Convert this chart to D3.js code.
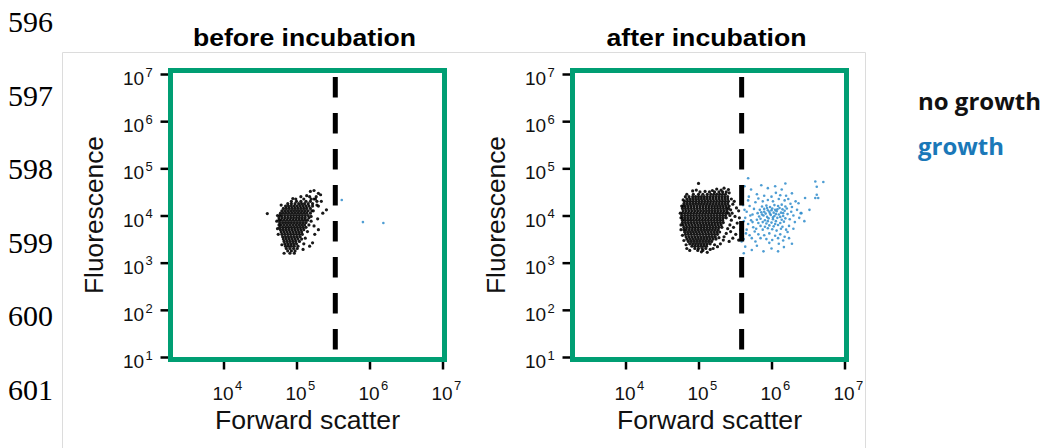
<!DOCTYPE html>
<html>
<head>
<meta charset="utf-8">
<script src="https://cdn.jsdelivr.net/npm/d3@7"></script>
<style>
body{margin:0;background:#fff}
svg{display:block}
</style>
</head>
<body>
<svg id="chart" width="1048" height="448"></svg>
<script>
var lineNumbers = ["596","597","598","599","600","601"]
var panelTitles = ["before incubation","after incubation"]
var xTicks = [1e4,1e5,1e6,1e7]
var yTicks = [1e1,1e2,1e3,1e4,1e5,1e6,1e7]
var gates = [3.4e5, 3.9e5]
var legendLabels = ["no growth","growth"]

// dots, in log10 units
// rows: [fluorescence, forward scatter, forward scatter, ...]
var beforeRows = [
  [4.40,5.06,5.18,5.27],
  [4.35,4.99,5.10,5.20,5.24],
  [4.30,4.93,5.00,5.06,5.13,5.19,5.28],
  [4.25,4.88,4.93,4.98,5.03,5.07,5.11,5.16,5.22],
  [4.20,4.85,4.89,4.93,4.97,5.01,5.05,5.09,5.13,5.17,5.22,5.30],
  [4.15,4.82,4.86,4.90,4.94,4.98,5.02,5.06,5.10,5.14,5.19],
  [4.10,4.80,4.84,4.88,4.92,4.96,5.00,5.04,5.08,5.12,5.16,5.21],
  [4.05,4.78,4.82,4.86,4.90,4.94,4.98,5.02,5.06,5.10,5.14,5.19],
  [4.00,4.77,4.80,4.84,4.88,4.92,4.96,5.00,5.04,5.08,5.12,5.16],
  [3.95,4.76,4.80,4.84,4.88,4.92,4.96,5.00,5.04,5.08,5.12,5.17],
  [3.90,4.76,4.79,4.83,4.87,4.91,4.95,4.99,5.03,5.07,5.11,5.15],
  [3.85,4.77,4.81,4.85,4.89,4.93,4.97,5.01,5.05,5.09,5.13],
  [3.80,4.76,4.79,4.83,4.87,4.91,4.95,4.99,5.03,5.07,5.11],
  [3.75,4.77,4.81,4.85,4.89,4.93,4.97,5.01,5.05,5.09,5.13],
  [3.70,4.78,4.82,4.86,4.90,4.94,4.98,5.02,5.06,5.10],
  [3.65,4.79,4.83,4.87,4.91,4.95,4.99,5.03,5.07],
  [3.60,4.80,4.84,4.88,4.92,4.96,5.00,5.04,5.08],
  [3.55,4.81,4.85,4.89,4.93,4.97,5.01,5.05],
  [3.50,4.82,4.86,4.90,4.94,4.98,5.02,5.07],
  [3.45,4.83,4.87,4.91,4.95,4.99,5.04],
  [3.40,4.84,4.88,4.92,4.96,5.00],
  [3.35,4.85,4.89,4.93,4.97,5.02],
  [3.30,4.86,4.91,4.96,5.01],
  [3.25,4.88,4.93,4.98],
  [3.20,4.91,4.97]
]
// single dots: [forward scatter, fluorescence]
var beforeExtra = [[4.60,4.04],[5.30,4.47],[5.24,4.53],[5.19,4.51],[5.33,4.44],[5.36,4.05],
  [5.41,4.12],[5.25,3.60],[5.22,3.42],[4.73,3.88],[4.74,3.72],[5.29,3.93],[5.28,4.22],
  [5.34,4.30],[5.18,3.35],[4.83,3.20],[5.30,3.70],[5.20,3.98],[5.23,4.10],[5.17,3.80],
  [5.15,3.66],[5.12,3.52],[4.74,4.00],[4.79,4.22],[4.75,3.60],[5.09,3.28],[4.80,3.38],
  [5.26,4.35],[5.14,4.42],[4.95,4.36],[5.10,3.40],[5.20,3.88],[5.24,3.78]]
var beforeBlue = [[5.62,4.33],[5.91,3.86],[6.19,3.84]]

var afterRows = [
  [4.50,5.02,5.15,5.22,5.28,5.33,5.38],
  [4.45,4.93,5.00,5.06,5.12,5.17,5.21,5.25,5.29,5.33,5.37],
  [4.40,4.87,4.92,4.96,5.00,5.04,5.08,5.12,5.16,5.20,5.24,5.28,5.32,5.36,5.40],
  [4.35,4.84,4.88,4.92,4.96,5.00,5.04,5.08,5.12,5.16,5.20,5.24,5.28,5.32,5.36,5.40],
  [4.30,4.81,4.85,4.89,4.93,4.97,5.01,5.05,5.09,5.13,5.17,5.21,5.25,5.29,5.33,5.37,5.41],
  [4.25,4.80,4.84,4.88,4.92,4.96,5.00,5.04,5.08,5.12,5.16,5.20,5.24,5.28,5.32,5.36,5.40],
  [4.20,4.79,4.82,4.86,4.90,4.94,4.98,5.02,5.06,5.10,5.14,5.18,5.22,5.26,5.30,5.34,5.38,5.42],
  [4.15,4.78,4.82,4.86,4.90,4.94,4.98,5.02,5.06,5.10,5.14,5.18,5.22,5.26,5.30,5.34,5.38,5.41],
  [4.10,4.79,4.83,4.87,4.91,4.95,4.99,5.03,5.07,5.11,5.15,5.19,5.23,5.27,5.31,5.35,5.39],
  [4.05,4.78,4.82,4.86,4.90,4.94,4.98,5.02,5.06,5.10,5.14,5.18,5.22,5.26,5.30,5.34,5.38,5.41],
  [4.00,4.77,4.81,4.85,4.89,4.93,4.97,5.01,5.05,5.09,5.13,5.17,5.21,5.25,5.29,5.33,5.37],
  [3.95,4.78,4.82,4.86,4.90,4.94,4.98,5.02,5.06,5.10,5.14,5.18,5.22,5.26,5.30,5.34,5.38],
  [3.90,4.78,4.81,4.85,4.89,4.93,4.97,5.01,5.05,5.09,5.13,5.17,5.21,5.25,5.29,5.33],
  [3.85,4.78,4.82,4.86,4.90,4.94,4.98,5.02,5.06,5.10,5.14,5.18,5.22,5.26,5.30,5.34],
  [3.80,4.79,4.83,4.87,4.91,4.95,4.99,5.03,5.07,5.11,5.15,5.19,5.23,5.27,5.31],
  [3.75,4.80,4.84,4.88,4.92,4.96,5.00,5.04,5.08,5.12,5.16,5.20,5.24,5.28,5.32],
  [3.70,4.80,4.83,4.87,4.91,4.95,4.99,5.03,5.07,5.11,5.15,5.19,5.23,5.27],
  [3.65,4.81,4.85,4.89,4.93,4.97,5.01,5.05,5.09,5.13,5.17,5.21,5.25,5.29],
  [3.60,4.82,4.86,4.90,4.94,4.98,5.02,5.06,5.10,5.14,5.18,5.22,5.26],
  [3.55,4.83,4.87,4.91,4.95,4.99,5.03,5.07,5.11,5.15,5.19,5.23],
  [3.50,4.84,4.88,4.92,4.96,5.00,5.04,5.08,5.12,5.16,5.20,5.24],
  [3.45,4.86,4.90,4.94,4.98,5.02,5.06,5.10,5.14,5.18],
  [3.40,4.88,4.92,4.96,5.00,5.04,5.08,5.12,5.16],
  [3.35,4.91,4.95,4.99,5.03,5.07,5.11],
  [3.30,4.95,5.00,5.05,5.10],
  [3.26,4.99,5.06]
]
var afterExtra = [[5.00,4.68],[4.76,3.95],[4.75,4.05],[4.76,3.80],[5.45,4.35],[5.47,4.24],
  [5.52,4.16],[5.46,4.05],[5.50,3.98],[5.45,3.90],[5.53,3.84],[5.48,3.75],[5.44,3.66],
  [5.51,3.60],[5.47,3.52],[5.55,3.48],[5.42,3.45],[5.35,3.55],[5.38,3.62],[5.30,3.40],
  [5.26,3.34],[5.20,3.30],[4.84,3.30],[4.88,3.26],[5.12,3.22],[5.41,4.55],[5.35,4.58],
  [5.25,4.56],[4.92,4.52],[5.55,4.10],[5.42,4.48],[4.84,4.45],[5.56,3.95],[5.43,3.80],
  [4.97,4.54],[5.09,4.51],[5.19,4.53],[5.31,4.54],[4.82,4.40],[4.79,4.33],[4.77,4.20],
  [4.76,3.70],[4.78,3.58],[4.80,3.47],[4.83,3.38],[5.22,3.38],[5.16,3.28],[5.44,4.12],
  [5.43,4.00],[5.40,3.72],[5.34,3.48],[5.28,3.53],[5.49,4.30],[5.58,3.70],[5.04,3.23]]
var afterBlue = [
  [5.82,3.84],[5.88,3.86],[5.93,3.83],[6.00,3.85],[6.06,3.88],[6.12,3.84],[6.17,3.87],
  [5.80,3.91],[5.85,3.93],[5.91,3.90],[5.96,3.94],[6.02,3.92],[6.08,3.95],[6.14,3.91],[6.19,3.94],
  [5.83,3.98],[5.89,4.00],[5.94,3.97],[5.99,4.01],[6.04,3.99],[6.10,4.02],[6.16,3.99],[6.22,4.03],
  [5.81,4.05],[5.86,4.07],[5.92,4.04],[5.97,4.08],[6.03,4.06],[6.07,4.09],[6.13,4.06],[6.18,4.10],
  [5.84,4.12],[5.90,4.14],[5.95,4.11],[6.01,4.15],[6.05,4.12],[6.11,4.16],[6.15,4.13],[6.21,4.15],
  [5.87,4.19],[5.93,4.21],[5.98,4.18],[6.04,4.22],[6.09,4.20],[6.14,4.23],[6.19,4.19],
  [5.85,3.78],[5.91,3.76],[5.97,3.79],[6.03,3.77],[6.09,3.80],[6.15,3.76],
  [5.79,3.72],[5.88,3.70],[5.95,3.73],[6.01,3.71],[6.07,3.68],[6.13,3.72],[6.20,3.70],
  [5.98,4.04],[6.06,4.03],[5.94,4.16],[6.02,3.96],[5.90,4.08],[6.12,3.97],[6.00,4.11],
  [5.87,4.02],[6.08,4.13],[5.95,3.88],[6.05,3.82],[6.16,4.05],
  [5.64,3.95],[5.66,4.08],[5.68,3.82],[5.70,4.20],[5.72,3.90],[5.74,4.02],[5.75,3.75],
  [5.76,4.14],[5.77,3.66],[5.78,4.28],[5.66,3.70],[5.68,4.32],[5.70,3.58],[5.73,3.52],
  [5.62,3.88],[5.63,4.12],[5.65,3.62],[5.69,4.40],[5.71,4.00],[5.74,3.86],
  [6.25,3.92],[6.27,4.08],[6.24,3.78],[6.30,4.00],[6.28,4.18],[6.32,3.86],[6.26,4.25],
  [6.35,4.12],[6.22,3.65],[6.30,3.72],[6.38,3.95],[6.33,4.30],[6.40,4.05],[6.23,4.35],
  [6.18,4.32],[6.10,4.35],[6.02,4.30],[5.95,4.33],[5.88,4.30],[5.82,4.36],
  [5.90,4.42],[6.00,4.40],[6.12,4.43],[6.20,4.42],[5.80,4.45],[6.06,4.48],
  [5.82,3.60],[5.90,3.58],[5.97,3.62],[6.05,3.57],[6.12,3.60],[6.18,3.55],[5.85,3.52],
  [5.93,3.50],[6.01,3.48],[6.09,3.52],[6.16,3.47],[6.24,3.52],[5.78,3.45],[5.97,3.42],
  [6.10,3.40],[5.60,3.75],[5.61,4.22],[5.62,3.50],
  [5.68,4.79],[5.63,4.62],[5.72,4.55],[5.86,4.64],[5.95,4.58],[6.05,4.62],[6.19,4.68],
  [6.14,4.55],[6.28,4.47],[6.37,4.26],[6.46,4.37],[6.41,4.05],[6.52,4.12],[6.45,3.88],
  [6.60,4.72],[6.62,4.61],[6.71,4.71],[6.62,4.44],[6.60,4.37],[6.64,4.37],
  [5.64,3.34],[5.73,3.27],[5.89,3.24],[6.09,3.24],[6.00,3.30],[6.17,3.33],[5.59,3.45],
  [5.80,3.36],[6.28,3.40],[5.62,3.20]
]

var svg = d3.select("#chart")
var panelLeft = [170.5, 572.5]
var boxW = 274, boxTop = 70.5, boxBottom = 359.5
var green = "#009E73"
var blue = "#2f8ccb"
var sans = "'Liberation Sans', Arial, sans-serif"

function flatten(rows){
  var pts = []
  rows.forEach(function(r){ r.slice(1).forEach(function(v){ pts.push([v, r[0]]) }) })
  return pts
}
function power(d){ return Math.round(Math.log10(d)) }

var x = d3.scaleLog().domain([1e4,1e7]).range([53, 272])
var y = d3.scaleLog().domain([1e1,1e7]).range([357, 74])

// line numbers of the manuscript
svg.selectAll("text.ln").data(lineNumbers).enter().append("text")
  .attr("class","ln")
  .attr("x",8).attr("y",function(d,i){return 32+i*73.6})
  .attr("font-family","'Liberation Serif', 'Times New Roman', serif")
  .attr("font-size",30).attr("fill","#000")
  .text(function(d){return d})

// light frame around the figure
svg.append("path").attr("d","M62.5,448V52.5H865.5V448")
  .attr("fill","none").attr("stroke","#dcdcdc").attr("stroke-width",1)

var panelData = [
  {black: flatten(beforeRows).concat(beforeExtra), blue: beforeBlue, gate: gates[0], tw: 223},
  {black: flatten(afterRows).concat(afterExtra), blue: afterBlue, gate: gates[1], tw: 200}
]

panelData.forEach(function(p, k){
  var g = svg.append("g").attr("transform","translate("+panelLeft[k]+",0)")

  g.append("text").text(panelTitles[k])
    .attr("x",boxW/2-3).attr("y",46).attr("text-anchor","middle")
    .attr("font-family",sans).attr("font-weight","bold")
    .attr("font-size",24).attr("textLength",p.tw).attr("lengthAdjust","spacingAndGlyphs")

  // y axis ticks
  var ya = g.append("g").call(d3.axisLeft(y).tickValues(yTicks).tickSize(10).tickFormat(""))
  ya.select(".domain").remove()
  ya.selectAll("line").attr("stroke","#000").attr("stroke-width",2.5)
  g.selectAll("text.ylab").data(yTicks).enter().append("text")
    .attr("class","ylab").attr("x",-26.5).attr("y",function(d){return y(d)+11})
    .attr("text-anchor","end").attr("font-family",sans)
    .attr("font-size",19).attr("textLength",21).attr("fill","#111").text("10")
  g.selectAll("text.yexp").data(yTicks).enter().append("text")
    .attr("class","yexp").attr("x",-25).attr("y",function(d){return y(d)+2.7})
    .attr("font-family",sans).attr("font-size",13).attr("fill","#111").text(power)

  // x axis ticks
  var xa = g.append("g").attr("transform","translate(0,"+boxBottom+")")
    .call(d3.axisBottom(x).tickValues(xTicks).tickSize(10).tickFormat(""))
  xa.select(".domain").remove()
  xa.selectAll("line").attr("stroke","#000").attr("stroke-width",2.5)
  g.selectAll("text.xlab").data(xTicks).enter().append("text")
    .attr("class","xlab").attr("x",function(d){return x(d)-11}).attr("y",400)
    .attr("font-family",sans).attr("font-size",19).attr("textLength",21)
    .attr("fill","#111").text("10")
  g.selectAll("text.xexp").data(xTicks).enter().append("text")
    .attr("class","xexp").attr("x",function(d){return x(d)+11.5}).attr("y",390)
    .attr("font-family",sans).attr("font-size",13).attr("fill","#111").text(power)

  // axis titles
  g.append("text").text("Forward scatter")
    .attr("x",boxW/2).attr("y",429).attr("text-anchor","middle")
    .attr("font-family",sans).attr("font-size",26)
    .attr("textLength",185).attr("lengthAdjust","spacingAndGlyphs").attr("fill","#111")
  g.append("text").text("Fluorescence")
    .attr("transform","translate(-67.3,"+((boxTop+boxBottom)/2)+") rotate(-90)")
    .attr("text-anchor","middle")
    .attr("font-family",sans).attr("font-size",26)
    .attr("textLength",158).attr("lengthAdjust","spacingAndGlyphs").attr("fill","#111")

  // dots
  g.append("g").selectAll("circle").data(p.black).enter().append("circle")
    .attr("cx",function(d){return x(Math.pow(10,d[0]))})
    .attr("cy",function(d){return y(Math.pow(10,d[1]))})
    .attr("r",1.6).attr("fill","#000").attr("opacity",0.9)
  g.append("g").selectAll("circle").data(p.blue).enter().append("circle")
    .attr("cx",function(d){return x(Math.pow(10,d[0]))})
    .attr("cy",function(d){return y(Math.pow(10,d[1]))})
    .attr("r",1.3).attr("fill",blue).attr("opacity",0.85)

  // gate
  g.append("line")
    .attr("x1",x(p.gate)).attr("x2",x(p.gate))
    .attr("y1",y(1e7)+3).attr("y2",y(1e1)-7)
    .attr("stroke","#000").attr("stroke-width",5).attr("stroke-dasharray","20.6,15.4")

  g.append("rect").attr("x",0).attr("y",boxTop).attr("width",boxW).attr("height",boxBottom-boxTop)
    .attr("fill","none").attr("stroke",green).attr("stroke-width",5)
})

// legend
svg.selectAll("text.leg").data(legendLabels).enter().append("text")
  .attr("class","leg").attr("x",918).attr("y",function(d,i){return 110+i*45})
  .attr("font-family","'Open Sans', sans-serif").attr("font-weight",700).attr("font-size",24)
  .attr("fill",function(d,i){return i==0 ? "#111" : "#1a78b8"})
  .text(function(d){return d})
</script>
</body>
</html>
